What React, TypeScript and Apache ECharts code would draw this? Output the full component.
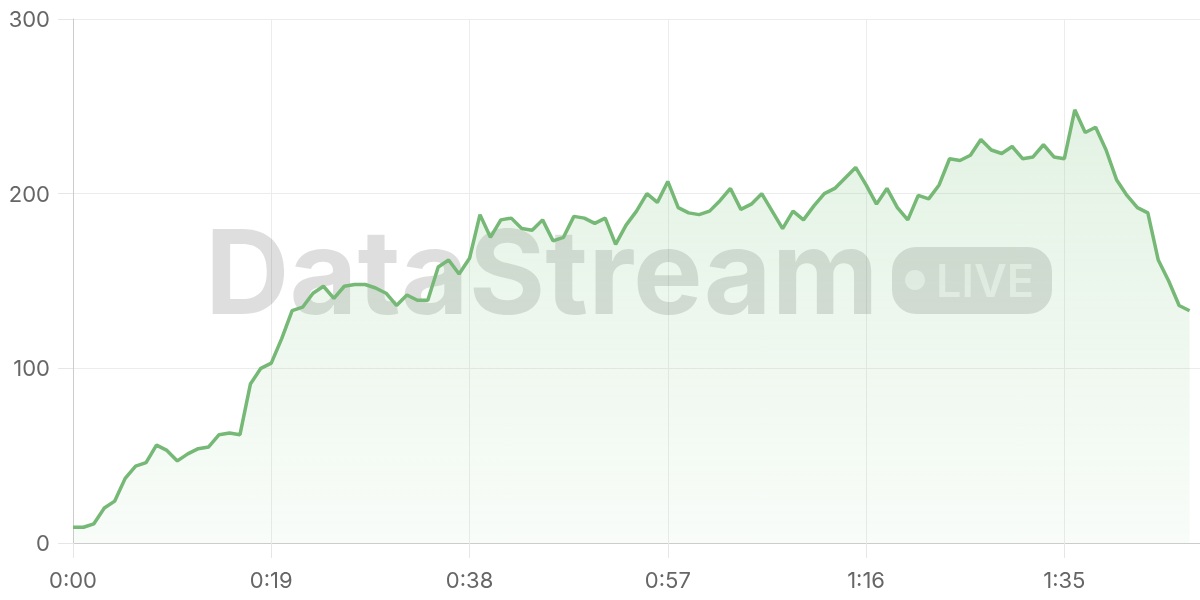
import React, { useEffect, useRef } from "react";
import * as echarts from "echarts";

// Sampled once per second, starting at 0:00
const values: number[] = [
  9, 9, 11, 20, 24, 37, 44, 46, 56, 53,
  47, 51, 54, 55, 62, 63, 62, 91, 100, 103,
  117, 133, 135, 143, 147, 140, 147, 148, 148, 146,
  143, 136, 142, 139, 139, 158, 162, 154, 163, 188,
  175, 185, 186, 180, 179, 185, 173, 175, 187, 186,
  183, 186, 171, 182, 190, 200, 195, 207, 192, 189,
  188, 190, 196, 203, 191, 194, 200, 190, 180, 190,
  185, 193, 200, 203, 209, 215, 205, 194, 203, 192,
  185, 199, 197, 205, 220, 219, 222, 231, 225, 223,
  227, 220, 221, 228, 221, 220, 248, 235, 238, 225,
  208, 199, 192, 189, 162, 150, 136, 133,
];

const xTickSeconds = [0, 19, 38, 57, 76, 95];
const yTicks = [0, 100, 200, 300];

const fmtTime = (s: number) => {
  const m = Math.floor(s / 60);
  const sec = Math.round(s % 60);
  return `${m}:${sec < 10 ? "0" : ""}${sec}`;
};

export default function App() {
  const ref = useRef<HTMLDivElement>(null);

  useEffect(() => {
    if (!ref.current) return;
    const chart = echarts.init(ref.current, undefined, { renderer: "svg" });
    const font = "Inter, 'Noto Sans', sans-serif";
    const data = values.map((v, i) => [i, v]);
    chart.setOption({
      animation: false,
      grid: { left: 73, right: 0, top: 19, bottom: 57, containLabel: false },
      xAxis: {
        type: "value",
        min: 0,
        max: 108,
        interval: xTickSeconds[1] - xTickSeconds[0],
        axisLine: { show: true, lineStyle: { color: "#cccccc", width: 1 } },
        axisTick: { show: true, length: 15, lineStyle: { color: "#e6e6e6" } },
        splitLine: { show: true, lineStyle: { color: "#ececec", width: 1 } },
        axisLabel: {
          color: "#666666",
          fontSize: 22,
          fontFamily: font,
          margin: 26,
          showMaxLabel: false,
          formatter: (v: number) => (xTickSeconds.includes(v) ? fmtTime(v) : ""),
        },
      },
      yAxis: {
        type: "value",
        min: yTicks[0],
        max: yTicks[yTicks.length - 1],
        interval: yTicks[1] - yTicks[0],
        axisLine: { show: true, lineStyle: { color: "#cccccc", width: 1 } },
        axisTick: { show: true, length: 15, lineStyle: { color: "#e6e6e6" } },
        splitLine: { show: true, lineStyle: { color: "#ececec", width: 1 } },
        axisLabel: {
          color: "#666666",
          fontSize: 22,
          fontFamily: font,
          margin: 23,
        },
      },
      graphic: [
        {
          type: "text",
          z: 1,
          silent: true,
          x: 205,
          y: 271,
          style: {
            text: "DataStream",
            fontFamily: font,
            fontWeight: "bold",
            fontSize: 117,
            fill: "rgba(0,0,0,0.13)",
            textAlign: "left",
            textVerticalAlign: "middle",
          },
        },
        {
          type: "rect",
          z: 1,
          silent: true,
          shape: { x: 892, y: 247, width: 160, height: 67, r: 24 },
          style: { fill: "rgba(0,0,0,0.13)" },
        },
        {
          type: "circle",
          z: 1,
          silent: true,
          shape: { cx: 915, cy: 280, r: 10 },
          style: { fill: "rgba(255,255,255,0.55)" },
        },
        {
          type: "text",
          z: 1,
          silent: true,
          x: 985,
          y: 280,
          style: {
            text: "LIVE",
            fontFamily: font,
            fontWeight: 600,
            fontSize: 45,
            fill: "rgba(255,255,255,0.55)",
            textAlign: "center",
            textVerticalAlign: "middle",
          },
        },
      ],
      series: [
        {
          type: "line",
          data,
          z: 3,
          showSymbol: false,
          smooth: false,
          lineStyle: { color: "#76b876", width: 3.5 },
          itemStyle: { color: "#76b876" },
          areaStyle: {
            color: new echarts.graphic.LinearGradient(0, 0, 0, 1, [
              { offset: 0, color: "rgba(129,199,132,0.32)" },
              { offset: 1, color: "rgba(129,199,132,0.07)" },
            ]),
          },
        },
      ],
    });
    return () => chart.dispose();
  }, []);

  return (
    <div
      ref={ref}
      style={{ position: "fixed", left: 0, top: 0, width: 1200, height: 600 }}
    />
  );
}
